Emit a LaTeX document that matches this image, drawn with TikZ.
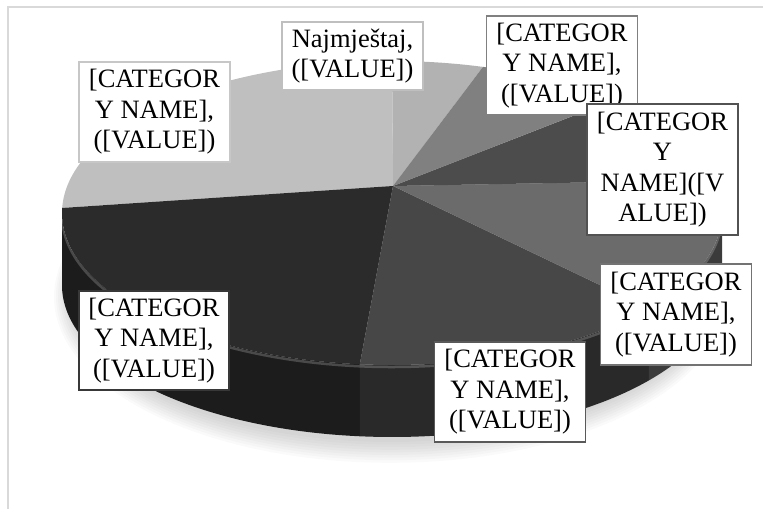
\documentclass[tikz,border=0pt]{standalone}
\usepackage{fontspec}
\setmainfont{Liberation Serif}
\newfontfamily\lblfont{Liberation Serif}
\begin{document}
\begin{tikzpicture}[x=1pt,y=1pt,
  lbl/.style={draw, fill=white, line width=1.3pt, align=center, inner sep=0pt,
    font=\lblfont\fontsize{26.5}{30.5}\selectfont, minimum width=151pt, minimum height=100pt},
  er/.style={x radius=330, y radius=152}]
\useasboundingbox (0,0) rectangle (763,-509);
% chart frame
\draw[color=black!15, line width=1.5pt] (8,-509) -- (8,-7) -- (763,-7);
% soft shadow
\foreach \i in {0,2,...,16}{
  \fill[black, opacity=0.018] (390,{-292-\i*0.3}) ellipse[x radius={320+\i}, y radius={150+\i}];
}
% sides
\def\side#1#2#3{\fill[#3] ([shift={(392,-213)}]#1:330 and 152) arc[start angle=#1,end angle=#2,er] -- ++(0,-72) arc[start angle=#2,end angle=#1,er] -- cycle;}
\side{178}{264.4}{black!89}
\side{264.4}{321.1}{black!84}
\side{321.1}{360}{black!77}
% edge highlight on the side
\draw[white, opacity=0.2, line width=2.5pt] ([shift={(392,-215)}]183:330 and 152) arc[start angle=183,end angle=357,er];
% top faces
\def\slice#1#2#3{\fill[#3] (393,-186) -- ([shift={(392,-213)}]#1:330 and 152) arc[start angle=#1,end angle=#2,er] -- cycle;}
\slice{74}{90}{black!30}
\slice{90}{178.1}{black!25}
\slice{178.1}{264.4}{black!83}
\slice{264.4}{321.1}{black!72}
\slice{321.1}{372.5}{black!58}
\slice{12.5}{47.9}{black!70}
\slice{47.9}{74}{black!50}
% labels
\node[lbl, draw=black!22] (l1) at (154.5,-112) {[CATEGOR\\Y NAME],\\([VALUE])};
\node[lbl, draw=black!25, minimum width=141pt, minimum height=68pt] (l2) at (352.5,-56) {Najmještaj,\\([VALUE])};
\node[lbl, draw=black!50, minimum height=99pt] (l3) at (562,-65.5) {[CATEGOR\\Y NAME],\\([VALUE])};
\node[lbl, draw=black!68, minimum height=131pt] (l4) at (662.5,-169.5) {[CATEGOR\\Y\\NAME]([V\\ALUE])};
\node[lbl, draw=black!55, minimum height=101pt] (l5) at (676,-314.5) {[CATEGOR\\Y NAME],\\([VALUE])};
\node[lbl, draw=black!65] (l6) at (510,-392) {[CATEGOR\\Y NAME],\\([VALUE])};
\node[lbl, draw=black!78, minimum width=150pt, minimum height=99pt] (l7) at (154,-340.5) {[CATEGOR\\Y NAME],\\([VALUE])};
\end{tikzpicture}
\end{document}
